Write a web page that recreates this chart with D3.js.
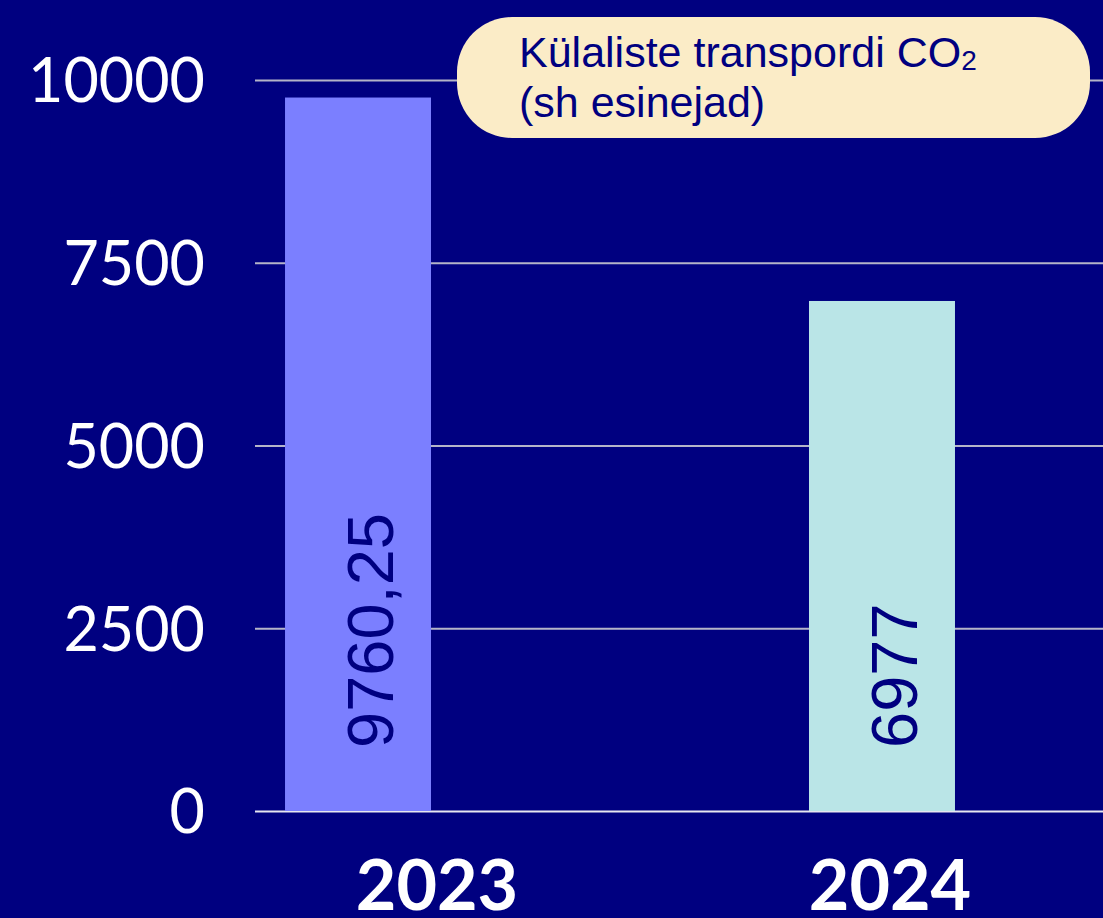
<!DOCTYPE html>
<html>
<head>
<meta charset="utf-8">
<script src="https://cdn.jsdelivr.net/npm/d3@7"></script>
<style>
  html, body { margin: 0; padding: 0; background: #000080; }
  svg { display: block; }
</style>
</head>
<body>
<script>
// data
const years = ['2023', '2024'];
const values = [9760.25, 6977];
const valueLabels = ['9760,25', '6977'];
const yTicks = [0, 2500, 5000, 7500, 10000];
const titleLines = ['Külaliste transpordi CO', '(sh esinejad)'];

const width = 1103, height = 918;
const colors = ['#7b7fff', '#bae5e7'];

const svg = d3.select('body').append('svg')
  .attr('width', width)
  .attr('height', height);

svg.append('rect')
  .attr('width', width).attr('height', height)
  .attr('fill', '#000080');

// step 524, bar width 146
const x = d3.scaleBand()
  .domain(years)
  .range([255, 985])
  .paddingInner(0.7214)
  .paddingOuter(0.0573);

const y = d3.scaleLinear()
  .domain([0, 10000])
  .range([811, 80]);

// grid + y labels
const yAxis = svg.append('g')
  .attr('transform', 'translate(255,0)')
  .call(d3.axisLeft(y).tickValues(yTicks).tickFormat(d3.format('d'))
    .tickSize(-(width - 255)).tickPadding(50));

yAxis.select('.domain').remove();
yAxis.selectAll('.tick line')
  .attr('stroke', (d) => d === 0 ? '#e6e6f0' : '#b4b4c8')
  .attr('stroke-width', 2);
yAxis.selectAll('.tick text')
  .attr('fill', '#ffffff')
  .attr('font-family', 'Lato, sans-serif')
  .attr('font-size', 61)
  .attr('dy', '0.36em');

// bars
svg.selectAll('.bar')
  .data(values)
  .enter().append('rect')
  .attr('class', 'bar')
  .attr('x', (d, i) => x(years[i]))
  .attr('width', x.bandwidth())
  .attr('y', (d) => y(d))
  .attr('height', (d) => y(0) - y(d))
  .attr('fill', (d, i) => colors[i]);

// value labels, rotated
svg.selectAll('.val')
  .data(valueLabels)
  .enter().append('text')
  .attr('class', 'val')
  .attr('transform', (d, i) => `translate(${x(years[i]) + x.bandwidth() / 2 + 35},${y(0) - 63}) rotate(-90)`)
  .attr('fill', '#000080')
  .attr('font-family', 'Liberation Sans, Arial, sans-serif')
  .attr('font-size', 65)
  .text((d) => d);

// year labels
const yearDx = [79, 8];
svg.selectAll('.year')
  .data(years)
  .enter().append('text')
  .attr('class', 'year')
  .attr('x', (d, i) => x(d) + x.bandwidth() / 2 + yearDx[i])
  .attr('y', 910)
  .attr('text-anchor', 'middle')
  .attr('fill', '#ffffff')
  .attr('font-family', 'Lato, sans-serif')
  .attr('font-weight', 700)
  .attr('font-size', 70)
  .text((d) => d);

// title pill
const pill = svg.append('g');
pill.append('rect')
  .attr('x', 457).attr('y', 17)
  .attr('width', 633).attr('height', 121)
  .attr('rx', 55).attr('ry', 55)
  .attr('fill', '#fbecc7');

const title = pill.append('text')
  .attr('fill', '#000080')
  .attr('font-family', 'Liberation Sans, Arial, sans-serif')
  .attr('font-size', 43);

title.append('tspan')
  .attr('x', 519).attr('y', 67)
  .text(titleLines[0]);
title.append('tspan')
  .attr('font-size', 28)
  .attr('dy', 3)
  .text('2');
title.append('tspan')
  .attr('x', 519).attr('y', 117)
  .text(titleLines[1]);
</script>
</body>
</html>
